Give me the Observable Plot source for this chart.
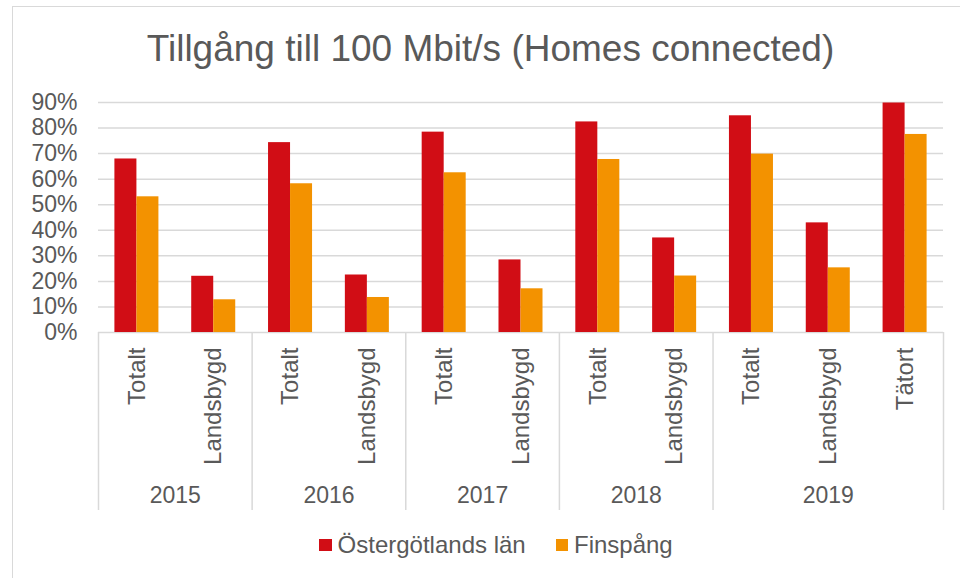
<!DOCTYPE html>
<html><head><meta charset="utf-8">
<script src="https://cdn.jsdelivr.net/npm/d3@7"></script>
<script src="https://cdn.jsdelivr.net/npm/@observablehq/plot@0.6"></script>
<style>
body{margin:0;background:#fff;font-family:"Liberation Sans",Arial,sans-serif;color:#595959;}
#wrap{position:relative;width:960px;height:578px;overflow:hidden;}
#frame{position:absolute;left:12px;top:6px;width:1000px;height:700px;border:1px solid #d9d9d9;box-sizing:border-box;pointer-events:none}
#title{padding:30px 0 0 21px;height:52px;line-height:37px;font-size:37px;text-align:center;white-space:nowrap}
#chart svg{display:block}
#legend{display:flex;justify-content:center;align-items:center;padding-left:32px;padding-top:5px;height:24px;font-size:24px;line-height:24px;white-space:nowrap}
.item{display:flex;align-items:center}
.item + .item{margin-left:30px}
.sw{width:12.7px;height:12.7px;display:inline-block;margin-right:5.6px}
</style>
</head><body>
<div id="wrap">
  <div id="frame"></div>
  <div id="title"></div>
  <div id="chart"></div>
  <div id="legend"></div>
</div>
<script>
const title = "Tillgång till 100 Mbit/s (Homes connected)";
const seriesNames = ["Östergötlands län", "Finspång"];
const seriesColors = ["#D10D15", "#F39200"];
const categories = ["Totalt","Landsbygd","Totalt","Landsbygd","Totalt","Landsbygd","Totalt","Landsbygd","Totalt","Landsbygd","Tätort"];
const groupOf = ["2015","2015","2016","2016","2017","2017","2018","2018","2019","2019","2019"];
const ostergotland = [0.679, 0.220, 0.743, 0.225, 0.784, 0.284, 0.824, 0.370, 0.848, 0.429, 0.898];
const finspang =     [0.531, 0.128, 0.582, 0.137, 0.625, 0.171, 0.677, 0.221, 0.698, 0.253, 0.775];
const yTicks = [0, 0.1, 0.2, 0.3, 0.4, 0.5, 0.6, 0.7, 0.8, 0.9];

document.getElementById("title").textContent = title;

const rows = categories.map((c, i) => ({i, cat: c, year: groupOf[i], ost: ostergotland[i], fin: finspang[i]}));
const years = [...new Set(groupOf)];
const yearRows = years.map(y => {
  const first = groupOf.indexOf(y), last = groupOf.lastIndexOf(y);
  return {year: y, first, mid: (first + last + 1) / 2};
});
const boundaries = [...yearRows.map(d => d.first), categories.length];

const BAR = 22 / 76.8; // bar width as fraction of a category slot
const GRID = "#d9d9d9";
const TXT = "#595959";
const fmt = d3.format(".0%");

const svg = Plot.plot({
  width: 960, height: 446,
  marginTop: 20, marginBottom: 18, marginLeft: 98, marginRight: 17,
  x: {domain: [0, categories.length], axis: null},
  y: {domain: [0, 0.9], range: [250, 20], axis: null},
  style: {fontFamily: "'Liberation Sans', Arial, sans-serif", color: TXT, background: "transparent", overflow: "visible"},
  marks: [
    Plot.ruleY(yTicks, {stroke: GRID, strokeWidth: 1.5}),
    Plot.rectY(rows, {x1: d => d.i + 0.5 - BAR, x2: d => d.i + 0.5, y: "ost", fill: seriesColors[0]}),
    Plot.rectY(rows, {x1: d => d.i + 0.5, x2: d => d.i + 0.5 + BAR, y: "fin", fill: seriesColors[1]}),
    Plot.ruleX(boundaries, {x: d => d, insetTop: 230, stroke: GRID, strokeWidth: 1.5}),
    Plot.text(yTicks, {x: 0, y: d => d, text: d => fmt(d), textAnchor: "end", dx: -21, fontSize: 23, fill: TXT}),
    Plot.text(rows, {x: d => d.i + 0.5, y: 0, text: "cat", rotate: -90, textAnchor: "end", lineAnchor: "middle", dy: 15, fontSize: 24, fill: TXT}),
    Plot.text(yearRows, {x: "mid", y: 0, text: "year", dy: 163, fontSize: 23, fill: TXT})
  ]
});
document.getElementById("chart").appendChild(svg);

const legend = document.getElementById("legend");
seriesNames.forEach((name, k) => {
  const item = document.createElement("div");
  item.className = "item";
  const sw = document.createElement("span");
  sw.className = "sw";
  sw.style.background = seriesColors[k];
  const label = document.createElement("span");
  label.textContent = name;
  item.appendChild(sw);
  item.appendChild(label);
  legend.appendChild(item);
});
</script>
</body></html>
